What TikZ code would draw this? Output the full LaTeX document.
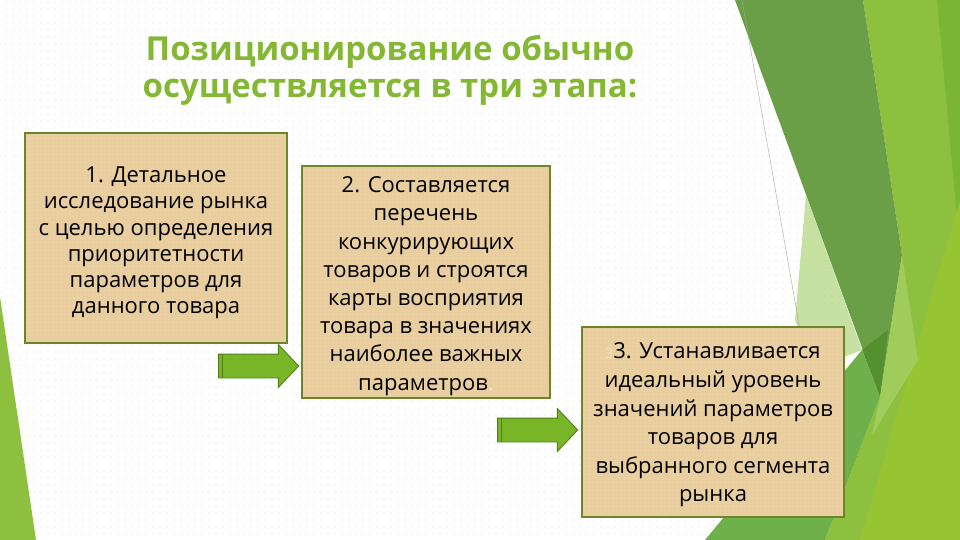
\documentclass[tikz,border=0pt]{standalone}
\usepackage{fontspec}
\setmainfont{Open Sans}
\usetikzlibrary{patterns.meta,shapes.arrows}
\definecolor{dotc}{RGB}{212,216,196}
\definecolor{titlegreen}{RGB}{132,184,52}
\definecolor{paper}{RGB}{234,208,160}
\definecolor{papergrid}{RGB}{224,196,146}
\definecolor{boxline}{RGB}{108,132,42}
\definecolor{arrowfill}{RGB}{120,182,40}
\definecolor{arrowline}{RGB}{82,126,24}
\definecolor{faceta}{RGB}{141,192,63}
\definecolor{facetdark}{RGB}{106,158,71}
\definecolor{facetdarker}{RGB}{84,143,48}
\definecolor{facetmed}{RGB}{110,176,74}
\definecolor{facetlight}{RGB}{160,204,92}
\definecolor{facetpale}{RGB}{180,216,130}
\definecolor{facetstrip}{RGB}{122,182,52}
\definecolor{facetyellow}{RGB}{150,196,50}
\definecolor{faintchar}{RGB}{240,228,205}
\tikzset{
  stagebox/.style={draw=boxline, line width=2.5pt, preaction={fill=paper},
    pattern={Hatch[angle=0,distance=4pt,line width=0.25pt]}, pattern color=papergrid,
    inner sep=0pt},
  stagetext/.style={align=center, inner sep=0pt, text=black},
  titletext/.style={font=\fontsize{33}{36}\bfseries\selectfont, text=titlegreen, inner sep=0pt, anchor=base},
  blockarrow/.style={single arrow, draw=arrowline, fill=arrowfill, line width=0.9pt,
    minimum height=80pt, inner xsep=0pt, inner ysep=11.5pt, single arrow head extend=9.5pt,
    single arrow tip angle=93}
}
\begin{document}
\begin{tikzpicture}[x=1pt,y=-1pt]
\useasboundingbox (0,0) rectangle (960,540);
% background
\fill[white] (0,0) rectangle (960,540);
\fill[pattern={Dots[distance=6.5pt,radius=0.6pt]}, pattern color=dotc] (0,0) rectangle (960,540);
% left facet
\fill[faceta] (0,297) -- (36,540) -- (0,540) -- cycle;
% right facets
\fill[faceta] (863,0) -- (960,0) -- (960,540) -- (825,540) -- (880,397) -- (902,255) -- cycle;
\fill[facetstrip] (937,0) -- (960,0) -- (960,250) -- cycle;
\fill[facetyellow] (960,200) -- (960,540) -- (860,540) -- cycle;
\fill[facetpale, opacity=0.75] (806,195) -- (862,350) -- (815,368) -- (795,320) -- cycle;
\fill[facetdark] (735,0) -- (863,0) -- (902,255) -- (880,397) -- cycle;
\fill[facetdarker] (862,350) -- (888,330) -- (880,397) -- cycle;
\fill[facetlight] (902,255) -- (918,360) -- (872,435) -- (880,397) -- cycle;
\fill[facetmed] (705,540) -- (862,350) -- (880,397) -- (825,540) -- cycle;
\draw[gray!70, line width=0.4pt] (742,0) -- (800,330);
% title
\node[titletext] (title1) at (390,61) {Позиционирование обычно};
\node[titletext] (title2) at (390,98) {осуществляется в три этапа:};
% boxes
\node[stagebox, minimum width=262pt, minimum height=210pt] (b1) at (156,238) {};
\node[stagetext, font=\fontsize{22}{26.2}\selectfont] (t1) at (156,243)
  {1. Детальное\\исследование рынка\\с целью определения\\приоритетности\\параметров для\\данного товара};
\node[stagebox, minimum width=248pt, minimum height=232pt] (b2) at (426,282) {};
\node[stagetext, font=\fontsize{22}{28.2}\selectfont] (t2) at (426,286)
  {2. Составляется\\перечень\\конкурирующих\\товаров и строятся\\карты восприятия\\товара в значениях\\наиболее важных\\параметров{\color{faintchar}.}};
\node[stagebox, minimum width=262pt, minimum height=190pt] (b3) at (713,422) {};
\node[stagetext, font=\fontsize{22}{28.6}\selectfont] (t3) at (713,425)
  {{\color{faintchar}\fontsize{14}{14}\selectfont 3}3. Устанавливается\\идеальный уровень\\значений параметров\\товаров для\\выбранного сегмента\\рынка};
% arrows
\node[blockarrow] (arr1) at (253,366) {};
\draw[arrowline, line width=0.8pt] ([xshift=4pt]arr1.before tail) -- ([xshift=4pt]arr1.after tail);
\node[blockarrow] (arr2) at (532,430) {};
\draw[arrowline, line width=0.8pt] ([xshift=4pt]arr2.before tail) -- ([xshift=4pt]arr2.after tail);
\end{tikzpicture}
\end{document}
